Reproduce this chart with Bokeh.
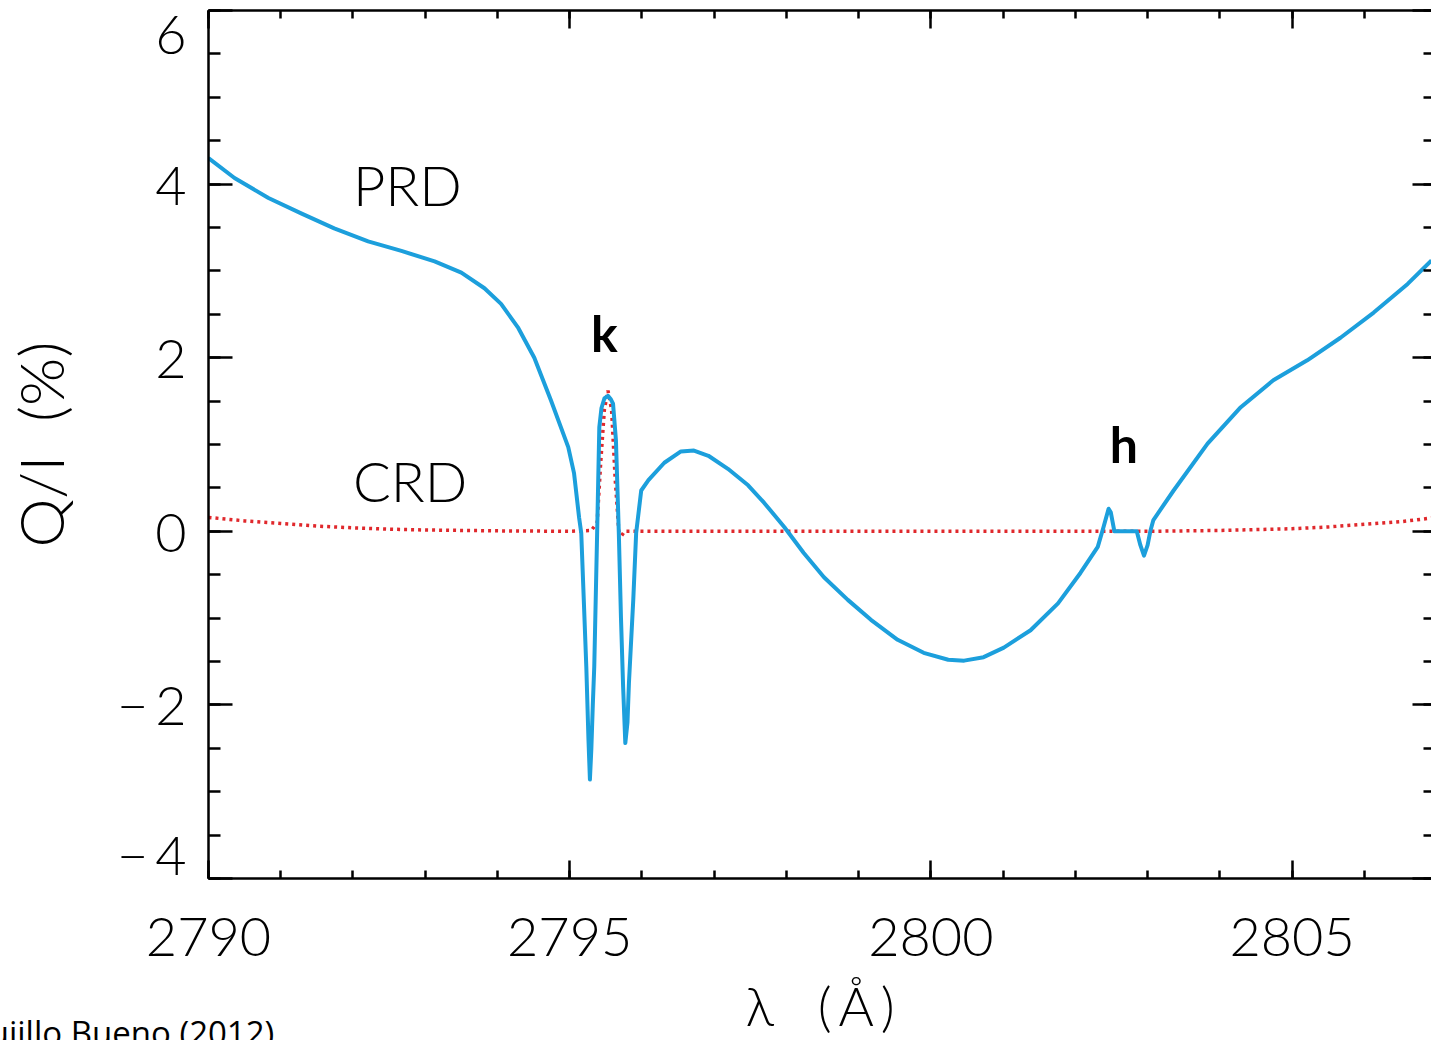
from bokeh.plotting import figure
from bokeh.models import Range1d, LinearAxis, Label, FixedTicker, Div
from bokeh.layouts import column
from bokeh.embed import file_html
from bokeh.resources import INLINE

# ---- data ----
prd_wavelength = [2790.00, 2790.36, 2790.83, 2791.29, 2791.74, 2792.21, 2792.67, 2793.13, 2793.50,
                  2793.82, 2794.05, 2794.29, 2794.51, 2794.74, 2794.98, 2795.06, 2795.13, 2795.16,
                  2795.20, 2795.23, 2795.26, 2795.28, 2795.30, 2795.32, 2795.34, 2795.38, 2795.41,
                  2795.44, 2795.48, 2795.53, 2795.57, 2795.60, 2795.64, 2795.68, 2795.71, 2795.74,
                  2795.77, 2795.80, 2795.82, 2795.88, 2795.92, 2795.99, 2796.09, 2796.31, 2796.54,
                  2796.72, 2796.92, 2797.19, 2797.47, 2797.69, 2797.97, 2798.24, 2798.52, 2798.85,
                  2799.17, 2799.54, 2799.90, 2800.24, 2800.46, 2800.73, 2801.01, 2801.38, 2801.76,
                  2802.07, 2802.31, 2802.39, 2802.46, 2802.49, 2802.54, 2802.85, 2802.90, 2802.95,
                  2803.00, 2803.04, 2803.08, 2803.36, 2803.83, 2804.29, 2804.74, 2805.21, 2805.67,
                  2806.13, 2806.60, 2806.93]
prd_q = [4.30, 4.07, 3.84, 3.66, 3.49, 3.34, 3.23, 3.11, 2.98,
         2.80, 2.62, 2.34, 2.00, 1.51, 0.97, 0.67, 0.16, -0.02,
         -0.90, -1.56, -2.40, -2.86, -2.50, -2.00, -1.56, -0.02, 1.20,
         1.42, 1.53, 1.56, 1.52, 1.47, 1.05, -0.02, -1.00, -1.80,
         -2.44, -2.20, -1.75, -0.79, -0.02, 0.47, 0.59, 0.79, 0.92,
         0.93, 0.87, 0.72, 0.53, 0.33, 0.05, -0.25, -0.53, -0.79,
         -1.02, -1.25, -1.40, -1.48, -1.49, -1.45, -1.34, -1.14, -0.83,
         -0.48, -0.18, 0.05, 0.26, 0.22, 0.00, 0.00, -0.16, -0.28,
         -0.16, 0.01, 0.13, 0.47, 1.01, 1.43, 1.74, 1.97, 2.23,
         2.52, 2.85, 3.12]

crd_wavelength = [2790.0, 2790.5, 2791.0, 2791.5, 2792.0, 2792.5, 2793.0, 2794.0, 2795.0,
                  2795.30, 2795.38, 2795.43, 2795.48, 2795.53, 2795.58, 2795.63, 2795.68,
                  2795.72, 2795.76, 2796.0, 2800.0, 2803.0, 2804.0, 2805.0, 2805.5, 2806.0,
                  2806.5, 2807.0]
crd_q = [0.16, 0.12, 0.09, 0.06, 0.04, 0.025, 0.015, 0.005, 0.0,
         0.01, 0.10, 0.80, 1.40, 1.62, 1.40, 0.60, 0.0,
         -0.05, 0.0, 0.0, 0.0, 0.0, 0.01, 0.03, 0.05, 0.08,
         0.11, 0.16]

x_ticks = [2790, 2795, 2800, 2805]
x_tick_labels = ["2790", "2795", "2800", "2805"]
y_ticks = [-4, -2, 0, 2, 4, 6]
y_tick_labels = ["\u2212\u20094", "\u2212\u20092", "0", "2", "4", "6"]

FONT = "Lato Light"
BLUE = "#1c9fdc"
RED = "#e0282c"
W, H = 1431, 1040

p = figure(width=W, height=H,
           x_range=Range1d(2790, 2806.93), y_range=Range1d(-4, 6),
           output_backend="svg", toolbar_location=None,
           min_border_left=207, min_border_top=10, min_border_bottom=160, min_border_right=0,
           x_axis_label="\u03bb\u00a0\u00a0\u00a0(\u2009\u00c5\u2009)",
           y_axis_label="Q/I\u00a0\u00a0(%)")
p.grid.visible = False
p.outline_line_color = None
p.background_fill_color = "white"
p.border_fill_color = "white"

x_minor = [2790 + i for i in range(18)]
y_minor = [-4 + 0.5 * i for i in range(21)]

xt = FixedTicker(ticks=x_ticks, minor_ticks=x_minor)
yt = FixedTicker(ticks=y_ticks, minor_ticks=y_minor)

# bottom axis
xa = p.xaxis[0]
xa.ticker = xt
xa.major_label_overrides = {t: l for t, l in zip(x_ticks, x_tick_labels)}
xa.major_tick_in = 18
xa.major_tick_out = 0
xa.minor_tick_in = 8
xa.minor_tick_out = 0
xa.major_tick_line_width = 2.5
xa.minor_tick_line_width = 2.5
xa.axis_line_width = 2.5
xa.major_label_standoff = 39
xa.major_label_text_font = FONT
xa.major_label_text_font_size = "54px"
xa.major_label_text_color = "black"
xa.axis_label_text_font = FONT
xa.axis_label_text_font_size = "54px"
xa.axis_label_text_font_style = "normal"
xa.axis_label_text_color = "black"
xa.axis_label_standoff = 14

# left axis; the lowest label is lifted inside the frame height as in the original
ya = p.yaxis[0]
ya.ticker = yt
ov = {t: l for t, l in zip(y_ticks, y_tick_labels)}
ov[y_ticks[0]] = y_tick_labels[0] + "\n "
ya.major_label_overrides = ov
ya.major_label_text_line_height = 0.75
ya.major_tick_in = 24
ya.major_tick_out = 0
ya.minor_tick_in = 12
ya.minor_tick_out = 0
ya.major_tick_line_width = 2.5
ya.minor_tick_line_width = 2.5
ya.axis_line_width = 2.5
ya.major_label_standoff = 22
ya.major_label_text_font = FONT
ya.major_label_text_font_size = "54px"
ya.major_label_text_color = "black"
ya.axis_label_text_font = FONT
ya.axis_label_text_font_size = "62px"
ya.axis_label_text_font_style = "normal"
ya.axis_label_text_color = "black"
ya.axis_label_standoff = 37

# top axis (ticks only)
ta = LinearAxis(ticker=xt, major_label_text_font_size="1px", major_label_text_color=None,
                major_label_standoff=0,
                major_tick_in=18, major_tick_out=0, minor_tick_in=8, minor_tick_out=0,
                major_tick_line_width=2.5, minor_tick_line_width=2.5, axis_line_width=2.5)
p.add_layout(ta, "above")

# right axis (ticks only; frame edge cropped)
ra = LinearAxis(ticker=yt, major_label_text_font_size="1px", major_label_text_color=None,
                major_label_standoff=0,
                major_tick_in=19, major_tick_out=0, minor_tick_in=8, minor_tick_out=0,
                major_tick_line_width=2.5, minor_tick_line_width=2.5, axis_line_color=None)
p.add_layout(ra, "right")

# curves
p.line(crd_wavelength, crd_q, line_color=RED, line_width=3.5, line_dash="3 4")
p.line(prd_wavelength, prd_q, line_color=BLUE, line_width=4, line_join="round")

# annotations
p.add_layout(Label(x=2792.0, y=4.0, text="PRD", text_align="left", text_baseline="middle",
                   text_font=FONT, text_font_size="56px", text_color="black"))
p.add_layout(Label(x=2792.0, y=0.59, text="CRD", text_align="left", text_baseline="middle",
                   text_font=FONT, text_font_size="56px", text_color="black"))
p.add_layout(Label(x=2795.48, y=2.28, text="k", text_align="center", text_baseline="middle",
                   text_font="Lato", text_font_style="bold", text_font_size="50px",
                   text_color="black"))
p.add_layout(Label(x=2802.67, y=1.01, text="h", text_align="center", text_baseline="middle",
                   text_font="Lato", text_font_style="bold", text_font_size="50px",
                   text_color="black"))

# attribution, cropped at the page edge in the original
credit = Div(text="Trujillo Bueno (2012)", margin=0,
             styles={"position": "absolute", "left": "-43px", "top": "1012px",
                     "height": "28px", "overflow": "hidden", "white-space": "nowrap",
                     "font-family": "'Open Sans', sans-serif", "font-size": "33px",
                     "color": "black", "line-height": "41px"})

layout = column(p, credit)
open("out.html", "w").write(file_html(layout, INLINE))
